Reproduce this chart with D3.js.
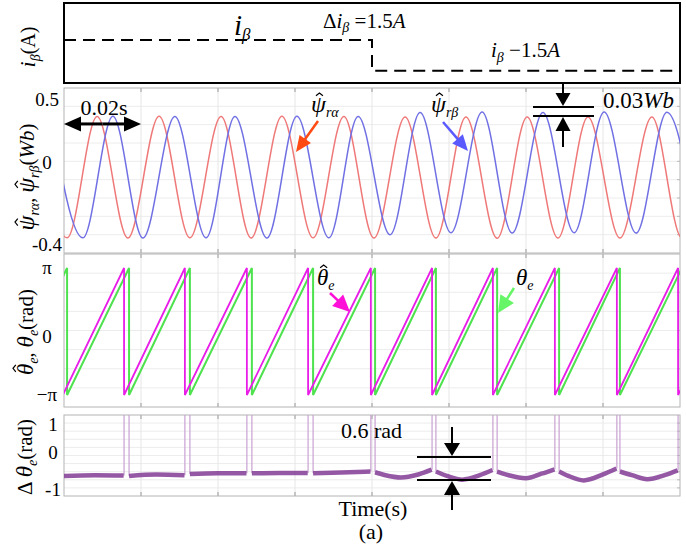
<!DOCTYPE html>
<html>
<head>
<meta charset="utf-8">
<script src="https://cdn.jsdelivr.net/npm/d3@7"></script>
<style>
body { margin: 0; background: #fff; }
svg { display: block; }
</style>
</head>
<body>
<svg id="fig" width="686" height="544"></svg>
<script>
// ---- data (time in s) ----
const tRange = [0, 0.16];
const gridTimes = [0, 0.02, 0.04, 0.06, 0.08, 0.10, 0.12, 0.14, 0.16];

// i_beta reference, steps down by 1.5 A at 0.08 s
const iBetaT = [0, 0.08, 0.16];
const iBetaV = [3.0, 1.5, 1.5];

// rotor flux estimates: times and values of the peaks / troughs
const psiAlphaT = [-0.0075, 0.0008, 0.0086, 0.0166, 0.0247, 0.0327, 0.0408, 0.0486, 0.0566, 0.0647,
  0.0727, 0.0805, 0.0886, 0.0966, 0.1044, 0.1125, 0.1203, 0.1283, 0.1361, 0.1444, 0.1527, 0.1605, 0.1688];
const psiAlphaV = [0.37, -0.365, 0.37, -0.366, 0.371, -0.365, 0.37, -0.366, 0.372, -0.365,
  0.37, -0.366, 0.366, -0.366, 0.366, -0.367, 0.365, -0.366, 0.366, -0.366, 0.365, -0.366, 0.365];
const psiBetaT = [-0.0034, 0.0049, 0.0127, 0.0205, 0.0288, 0.0369, 0.0444, 0.0527, 0.0605, 0.0688,
  0.0764, 0.0847, 0.0925, 0.1005, 0.1086, 0.1164, 0.1244, 0.1325, 0.1403, 0.1486, 0.1566, 0.1644];
const psiBetaV = [0.37, -0.365, 0.372, -0.366, 0.37, -0.365, 0.37, -0.366, 0.371, -0.365,
  0.37, -0.35, 0.40, -0.34, 0.405, -0.342, 0.40, -0.34, 0.405, -0.342, 0.402, -0.34];

// electrical angle: times where the sawtooth wraps from pi to -pi
const thetaHatWraps = [-0.0003, 0.0156, 0.0314, 0.0475, 0.0634, 0.0797, 0.0956, 0.1114, 0.1275, 0.1436, 0.1595, 0.1754];
const thetaWraps = [-0.0151, 0.0008, 0.0169, 0.0327, 0.0488, 0.0647, 0.0808, 0.0966, 0.1125, 0.1286, 0.1444, 0.1605];

// angle error (rad), read between the wrap spikes
const dThetaT = [0.0000, 0.0080, 0.0155, 0.0169, 0.0240, 0.0313, 0.0327, 0.0400, 0.0474, 0.0488, 0.0560, 0.0633,
  0.0647, 0.0720, 0.0796, 0.0808, 0.0835, 0.0875, 0.0920, 0.0955, 0.0966, 0.0995, 0.1035, 0.1080, 0.1113,
  0.1125, 0.1155, 0.1200, 0.1240, 0.1274, 0.1286, 0.1310, 0.1350, 0.1400, 0.1435,
  0.1444, 0.1475, 0.1515, 0.1560, 0.1594];
const dThetaV = [-0.62, -0.60, -0.61, -0.62, -0.58, -0.60, -0.57, -0.55, -0.55, -0.55, -0.54, -0.54,
  -0.55, -0.53, -0.50, -0.52, -0.60, -0.66, -0.58, -0.45, -0.50, -0.62, -0.72, -0.60, -0.46,
  -0.50, -0.60, -0.68, -0.56, -0.44, -0.50, -0.62, -0.74, -0.58, -0.42,
  -0.50, -0.60, -0.71, -0.60, -0.47];
const spikeV = 5.7;

const psiTicks = [0.5, 0, -0.4];
const psiTickLabels = ['0.5', '0', '-0.4'];
const thTicks = [Math.PI, 0, -Math.PI];
const thTickLabels = ['\u03c0', '0', '\u2212\u03c0'];
const dTicks = [1, 0, -1];
const dTickLabels = ['1', '0', '-1'];

const FONT = "'Liberation Serif', 'Times New Roman', serif";

// ---- layout ----
const svg = d3.select('#fig');
const L = 64, R = 680;
const P1 = {top: 3, bottom: 83, div: 0};
const P2 = {top: 88, bottom: 253, div: 9};
const P3 = {top: 254, bottom: 407, div: 8};
const P4 = {top: 415, bottom: 496, div: 10};

const x = d3.scaleLinear().domain(tRange).range([L, R]);
const yI = d3.scaleLinear().domain([0.9, 4.8]).range([P1.bottom, P1.top]);
const yPsi = d3.scaleLinear().domain([-0.4, 0, 0.5]).range([245, 163, 100]);
const yTh = d3.scaleLinear().domain([-Math.PI, 0, Math.PI]).range([395, 337, 268]);
const yD = d3.scaleLinear().domain([-1, 0, 1]).range([490, 453, 425]);

const defs = svg.append('defs');
[P2, P3, P4].forEach((p, i) => {
  p.clip = 'clip' + i;
  defs.append('clipPath').attr('id', p.clip).append('rect')
    .attr('x', L).attr('y', p.top).attr('width', R - L).attr('height', p.bottom - p.top);
});

// grid + frame for the scope panels
function panelFrame(p) {
  const g = svg.append('g');
  const h = p.bottom - p.top;
  g.selectAll('.hg').data(d3.range(1, p.div)).join('line')
    .attr('x1', L).attr('x2', R)
    .attr('y1', d => p.top + d * h / p.div).attr('y2', d => p.top + d * h / p.div)
    .attr('stroke', '#ececec').attr('stroke-width', 1);
  g.selectAll('.vg').data(gridTimes.slice(1, -1)).join('line')
    .attr('x1', d => x(d)).attr('x2', d => x(d))
    .attr('y1', p.top).attr('y2', p.bottom)
    .attr('stroke', '#e6e6e6').attr('stroke-width', 1);
  // small ticks on the frame
  g.selectAll('.tt').data(gridTimes.slice(1, -1)).join('path')
    .attr('d', d => `M${x(d)},${p.top}v4M${x(d)},${p.bottom}v-4`)
    .attr('stroke', '#999').attr('stroke-width', 1);
  g.selectAll('.rt').data(d3.range(1, p.div)).join('line')
    .attr('x1', R - 3).attr('x2', R)
    .attr('y1', d => p.top + d * h / p.div).attr('y2', d => p.top + d * h / p.div)
    .attr('stroke', '#bbb');
  g.append('rect').attr('x', L).attr('y', p.top).attr('width', R - L).attr('height', h)
    .attr('fill', 'none').attr('stroke', '#b4b4b4').attr('stroke-width', 1);
  return g;
}

// ---- panel 1: i_beta ----
svg.append('rect').attr('x', L).attr('y', P1.top).attr('width', R - L).attr('height', P1.bottom - P1.top)
  .attr('fill', 'none').attr('stroke', '#000').attr('stroke-width', 2);
svg.append('path')
  .datum(iBetaT.map((t, i) => [t, iBetaV[i]]))
  .attr('d', d3.line().x(d => x(d[0])).y(d => yI(d[1])).curve(d3.curveStepAfter))
  .attr('fill', 'none').attr('stroke', '#000').attr('stroke-width', 2)
  .attr('stroke-dasharray', '12,7');

// ---- panel 2: flux ----
panelFrame(P2);
const g2 = svg.append('g').attr('clip-path', 'url(#' + P2.clip + ')');
const psiLine = d3.line().x(d => x(d[0])).y(d => yPsi(d[1])).curve(d3.curveMonotoneX);
g2.append('path').datum(psiAlphaT.map((t, i) => [t, psiAlphaV[i]]))
  .attr('d', psiLine).attr('fill', 'none').attr('stroke', '#ef7878').attr('stroke-width', 1.5);
g2.append('path').datum(psiBetaT.map((t, i) => [t, psiBetaV[i]]))
  .attr('d', psiLine).attr('fill', 'none').attr('stroke', '#7070e4').attr('stroke-width', 1.5);

// ---- panel 3: angle ----
panelFrame(P3);
const g3 = svg.append('g').attr('clip-path', 'url(#' + P3.clip + ')');
function sawPoints(wraps) {
  const pts = [];
  for (let i = 0; i < wraps.length - 1; i++) {
    pts.push([wraps[i], -Math.PI], [wraps[i + 1], Math.PI]);
  }
  return pts;
}
const thLine = d3.line().x(d => x(d[0])).y(d => yTh(d[1]));
g3.append('path').datum(sawPoints(thetaWraps))
  .attr('d', thLine).attr('fill', 'none').attr('stroke', '#4ee24e').attr('stroke-width', 2);
g3.append('path').datum(sawPoints(thetaHatWraps))
  .attr('d', thLine).attr('fill', 'none').attr('stroke', '#e81ee8').attr('stroke-width', 1.8);

// ---- panel 4: angle error ----
panelFrame(P4);
const g4 = svg.append('g').attr('clip-path', 'url(#' + P4.clip + ')');
const dPts = dThetaT.map((t, i) => ({t: t, v: dThetaV[i]}));
const segs = Array.from(d3.group(dPts, p => d3.bisectLeft(thetaHatWraps, p.t)).values());
// wrap spikes: estimate wraps first, the measured angle a little later
const spikes = [];
for (let i = 1; i < thetaHatWraps.length - 1; i++) {
  const t0 = thetaHatWraps[i], t1 = thetaWraps[i + 1];
  if (t0 > tRange[1]) break;
  const before = segs[i - 1], after = segs[i];
  const v0 = before[before.length - 1].v;
  const v1 = after ? after[0].v : v0;
  spikes.push([[t0, v0], [t0, spikeV], [t1, spikeV], [t1, v1]]);
}
const dLine = d3.line().x(d => x(d[0])).y(d => yD(d[1]));
g4.selectAll('.spk').data(spikes).join('path')
  .attr('d', dLine).attr('fill', 'none').attr('stroke', '#c9a2d2').attr('stroke-width', 1.2);
const segLine = d3.line().x(d => x(d.t)).y(d => yD(d.v)).curve(d3.curveMonotoneX);
g4.selectAll('.seg').data(segs).join('path')
  .attr('d', segLine).attr('fill', 'none').attr('stroke', '#7a2e8e').attr('stroke-width', 4.5)
  .attr('stroke-opacity', 0.8);

// ---- text helpers ----
function txt(sel, tx, ty, s, size, anchor) {
  return sel.append('text').attr('x', tx).attr('y', ty).attr('font-size', size)
    .attr('text-anchor', anchor || 'start').style('font-family', FONT).text(s);
}
function mathText(g, tx, ty, parts, anchor) {
  const t = g.append('text').attr('x', tx).attr('y', ty).attr('text-anchor', anchor || 'start')
    .style('font-family', FONT);
  parts.forEach(p => {
    t.append('tspan').text(p.s).attr('font-size', p.size)
      .attr('font-style', p.it ? 'italic' : null).attr('dy', p.dy || 0);
  });
  return t;
}
// circumflex drawn as a small chevron over one character
function addHat(g, t, idx, w, dx, dy) {
  const e = t.node().getExtentOfChar(idx);
  const cx = e.x + e.width / 2 + dx, ty = e.y + dy;
  g.append('path').attr('d', `M${cx - w},${ty + w * 0.8}L${cx},${ty}L${cx + w},${ty + w * 0.8}`)
    .attr('fill', 'none').attr('stroke', '#000').attr('stroke-width', 1.2);
}

// ---- tick labels ----
function tickLabels(vals, labels, scale, cx) {
  const g = svg.append('g');
  vals.forEach((v, i) => txt(g, cx, scale(v) + 6, labels[i], 19, 'middle'));
}
tickLabels(psiTicks, psiTickLabels, yPsi, 47);
tickLabels(thTicks, thTickLabels, yTh, 47);
tickLabels(dTicks, dTickLabels, yD, 53);

// y axis titles
let g = svg.append('g').attr('transform', 'translate(35,47) rotate(-90)');
mathText(g, 0, 0, [{s: 'i', size: 22, it: 1}, {s: '\u03b2', size: 14, it: 1, dy: 5}, {s: '(A)', size: 20, dy: -5}], 'middle');

g = svg.append('g').attr('transform', 'translate(34,177) rotate(-90)');
let t = mathText(g, 0, 0, [
  {s: '\u03c8', size: 24, it: 1}, {s: 'r\u03b1', size: 14, it: 1, dy: 5}, {s: ', ', size: 20, dy: -5},
  {s: '\u03c8', size: 24, it: 1}, {s: 'r\u03b2', size: 14, it: 1, dy: 5}, {s: '(', size: 21, dy: -5},
  {s: 'Wb', size: 21, it: 1}, {s: ')', size: 21}], 'middle');
addHat(g, t, 0, 3.5, 1, 2);
addHat(g, t, 5, 3.5, 1, 2);

g = svg.append('g').attr('transform', 'translate(33,332) rotate(-90)');
t = mathText(g, 0, 0, [
  {s: '\u03b8', size: 23, it: 1}, {s: 'e', size: 14, it: 1, dy: 5}, {s: ', ', size: 20, dy: -5},
  {s: '\u03b8', size: 23, it: 1}, {s: 'e', size: 14, it: 1, dy: 5}, {s: '(rad)', size: 21, dy: -5}], 'middle');
addHat(g, t, 0, 3.5, 1, 0);

g = svg.append('g').attr('transform', 'translate(32,457) rotate(-90)');
mathText(g, 0, 0, [
  {s: '\u0394 ', size: 21}, {s: '\u03b8', size: 23, it: 1}, {s: 'e', size: 14, it: 1, dy: 5},
  {s: '(rad)', size: 21, dy: -5}], 'middle');

// ---- annotations ----
function arrowHead(sel, tipX, tipY, ang, len, wid, color) {
  // ang: direction the arrow points, in radians
  const bx = tipX - len * Math.cos(ang), by = tipY - len * Math.sin(ang);
  const nx = -Math.sin(ang) * wid / 2, ny = Math.cos(ang) * wid / 2;
  sel.append('path')
    .attr('d', `M${tipX},${tipY}L${bx + nx},${by + ny}L${bx - nx},${by - ny}Z`)
    .attr('fill', color);
}
function arrow(sel, x1, y1, x2, y2, color, w, len, wid) {
  const ang = Math.atan2(y2 - y1, x2 - x1);
  sel.append('line').attr('x1', x1).attr('y1', y1)
    .attr('x2', x2 - (len - 2) * Math.cos(ang)).attr('y2', y2 - (len - 2) * Math.sin(ang))
    .attr('stroke', color).attr('stroke-width', w);
  arrowHead(sel, x2, y2, ang, len, wid, color);
}
const ann = svg.append('g');

// top panel texts
mathText(ann, 234, 35, [{s: 'i', size: 29, it: 1}, {s: '\u03b2', size: 17, it: 1, dy: 5}]);
mathText(ann, 323, 28, [{s: '\u0394', size: 21}, {s: 'i', size: 21, it: 1}, {s: '\u03b2', size: 14, it: 1, dy: 4},
  {s: ' =1.5', size: 21, dy: -4}, {s: 'A', size: 21, it: 1}]);
mathText(ann, 491, 57, [{s: 'i', size: 21, it: 1}, {s: '\u03b2', size: 14, it: 1, dy: 5},
  {s: ' \u22121.5', size: 21, dy: -5}, {s: 'A', size: 21, it: 1}]);

// 0.02 s period arrow
const yArr = yPsi(0.31);
arrow(ann, (x(0) + x(0.02)) / 2, yArr, x(0), yArr, '#000', 3, 17, 15);
arrow(ann, (x(0) + x(0.02)) / 2, yArr, x(0.02), yArr, '#000', 3, 17, 15);
txt(ann, 104, 115, '0.02s', 22, 'middle');

// flux labels
t = mathText(ann, 311, 112, [{s: '\u03c8', size: 24, it: 1}, {s: 'r\u03b1', size: 14, it: 1, dy: 5}]);
addHat(ann, t, 0, 3.5, 1, 2);
arrow(ann, 318, 121, 296, 152, '#ff4a14', 2.5, 16, 14);
t = mathText(ann, 431, 112, [{s: '\u03c8', size: 24, it: 1}, {s: 'r\u03b2', size: 14, it: 1, dy: 5}]);
addHat(ann, t, 0, 3.5, 1, 2);
arrow(ann, 443, 122, 468, 151, '#5a5aff', 2.5, 16, 14);

// 0.03 Wb marker
ann.append('line').attr('x1', 533).attr('x2', 594).attr('y1', 107).attr('y2', 107).attr('stroke', '#000').attr('stroke-width', 2);
ann.append('line').attr('x1', 533).attr('x2', 594).attr('y1', 116).attr('y2', 116).attr('stroke', '#000').attr('stroke-width', 2);
arrow(ann, 563, 84, 563, 106, '#000', 2, 13, 15);
arrow(ann, 563, 147, 563, 117, '#000', 2, 14, 15);
mathText(ann, 603, 108, [{s: '0.03', size: 23}, {s: 'Wb', size: 23, it: 1}]);

// angle labels
t = mathText(ann, 317, 285, [{s: '\u03b8', size: 23, it: 1}, {s: 'e', size: 14, it: 1, dy: 5}]);
addHat(ann, t, 0, 3.5, 1, 0);
arrow(ann, 330, 293, 350, 312, '#ff10d8', 2.5, 17, 16);
mathText(ann, 516, 285, [{s: '\u03b8', size: 23, it: 1}, {s: 'e', size: 14, it: 1, dy: 5}]);
arrow(ann, 514, 288, 498, 313, '#66f566', 2.5, 17, 16);

// 0.6 rad marker
txt(ann, 341, 438, '0.6 rad', 22);
ann.append('line').attr('x1', 417).attr('x2', 491).attr('y1', 457).attr('y2', 457).attr('stroke', '#000').attr('stroke-width', 2);
ann.append('line').attr('x1', 417).attr('x2', 491).attr('y1', 480).attr('y2', 480).attr('stroke', '#000').attr('stroke-width', 2);
arrow(ann, 452, 427, 452, 456, '#000', 2, 13, 16);
arrow(ann, 452, 510, 452, 481, '#000', 2, 14, 16);

// x title and caption
txt(ann, 373, 516, 'Time(s)', 22, 'middle');
txt(ann, 371, 539, '(a)', 22, 'middle');
</script>
</body>
</html>
